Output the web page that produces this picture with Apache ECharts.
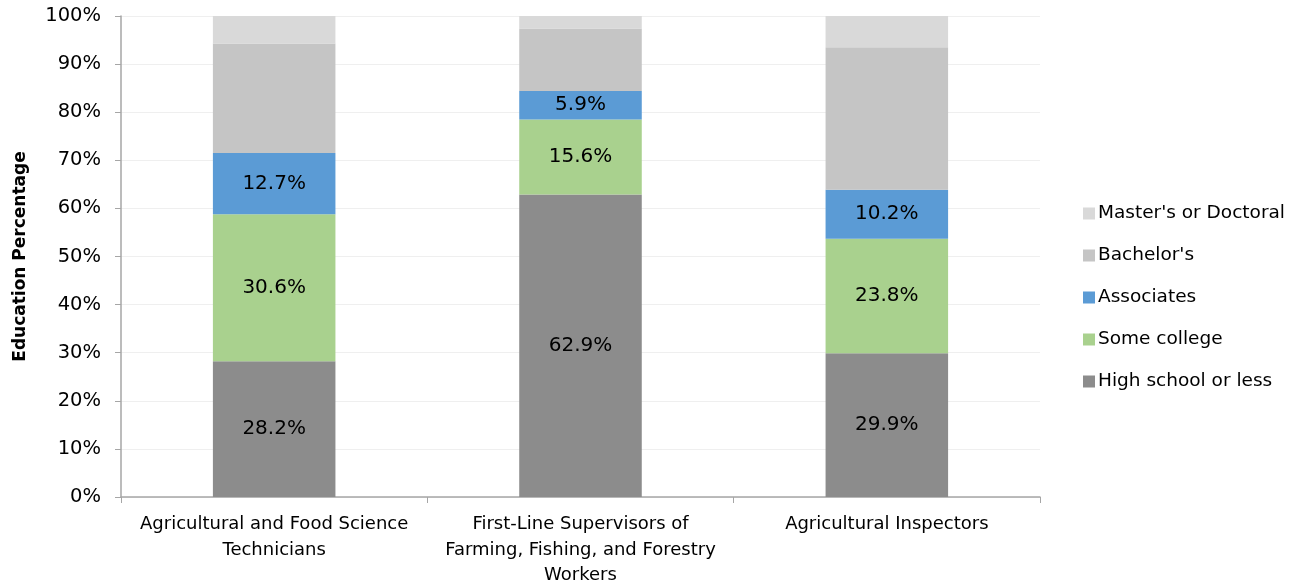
<!DOCTYPE html>
<html>
<head>
<meta charset="utf-8">
<script src="https://cdn.jsdelivr.net/npm/echarts@6/dist/echarts.min.js"></script>
<style>html,body{margin:0;padding:0;background:#fff}#c{width:1302px;height:586px}</style>
</head>
<body>
<div id="c"></div>
<script>
const categories = ['Agricultural and Food Science\nTechnicians', 'First-Line Supervisors of\nFarming, Fishing, and Forestry\nWorkers', 'Agricultural Inspectors'];
const highSchool = [28.2, 62.9, 29.9];
const someCollege = [30.6, 15.6, 23.8];
const associates = [12.7, 5.9, 10.2];
const bachelors = [22.8, 13.0, 29.6];
const masters = [5.7, 2.6, 6.5];
const yTicks = [0, 10, 20, 30, 40, 50, 60, 70, 80, 90, 100];

const FONT = 'DejaVu Sans';
const chart = echarts.init(document.getElementById('c'), null, {renderer: 'canvas'});
function mk(name, data, color, showLabel) {
  return {
    name, type: 'bar', stack: 'all', data, barWidth: '40%',
    itemStyle: {color},
    label: {show: showLabel, position: 'inside', color: '#000', fontFamily: FONT, fontSize: 20,
      formatter: p => p.value.toFixed(1) + '%'},
    emphasis: {disabled: true}
  };
}
chart.setOption({
  animation: false,
  grid: {left: 121, right: 262, top: 16, bottom: 89, containLabel: false, outerBoundsMode: 'none'},
  legend: {
    orient: 'vertical', left: 1078, top: 199, itemGap: 23, itemWidth: 12, itemHeight: 12,
    icon: 'rect',
    textStyle: {fontFamily: FONT, fontSize: 18.5, color: '#000', padding: [0, 0, 0, -2]},
    data: ["Master's or Doctoral", "Bachelor's", 'Associates', 'Some college', 'High school or less']
  },
  xAxis: {
    type: 'category', data: categories,
    axisLine: {lineStyle: {color: '#a6a6a6', width: 1.5}},
    axisTick: {show: true, alignWithLabel: false, length: 6, lineStyle: {color: '#a6a6a6'}},
    axisLabel: {fontFamily: FONT, fontSize: 18, color: '#000', margin: 15, lineHeight: 25.5, interval: 0}
  },
  yAxis: {
    type: 'value', min: 0, max: 100, interval: 10,
    name: 'Education Percentage', nameLocation: 'middle', nameGap: 92,
    nameTextStyle: {fontFamily: FONT, fontSize: 17, fontWeight: 'bold', color: '#000'},
    axisLine: {show: true, lineStyle: {color: '#a6a6a6', width: 1.5}},
    axisTick: {show: true, length: 6, lineStyle: {color: '#a6a6a6'}},
    splitLine: {lineStyle: {color: '#efefef'}},
    axisLabel: {fontFamily: FONT, fontSize: 19.5, color: '#000', margin: 20,
      formatter: v => yTicks.includes(v) ? v + '%' : ''}
  },
  series: [
    mk('High school or less', highSchool, '#8c8c8c', true),
    mk('Some college', someCollege, '#a9d18e', true),
    mk('Associates', associates, '#5b9bd5', true),
    mk("Bachelor's", bachelors, '#c5c5c5', false),
    mk("Master's or Doctoral", masters, '#d9d9d9', false)
  ]
});
</script>
</body>
</html>
